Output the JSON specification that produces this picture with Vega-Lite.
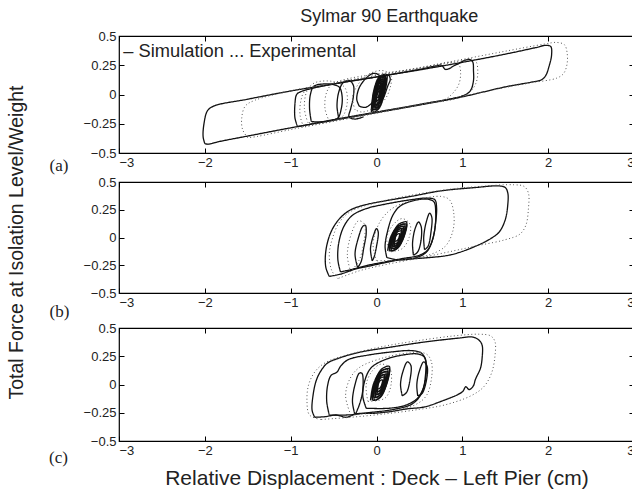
{
  "$schema": "https://vega.github.io/schema/vega-lite/v6.json",
  "padding": {"left": 5, "top": 8, "right": 0, "bottom": 0},
  "title": {"text": "Sylmar 90 Earthquake", "anchor": "middle", "dx": 69, "offset": 3},
  "spacing": 29,
  "bounds": "flush",
  "datasets": {
    "note": [{"x": -2.95, "y": 0.36, "label": "– Simulation ... Experimental"}],
    "a": [
      {"g":"a1","t":"sim","x":-2.0,"y":-0.42},{"g":"a1","t":"sim","x":-2.02,"y":-0.36},{"g":"a1","t":"sim","x":-2.01,"y":-0.25},{"g":"a1","t":"sim","x":-1.97,"y":-0.14},{"g":"a1","t":"sim","x":-1.9,"y":-0.1},{"g":"a1","t":"sim","x":-1.5,"y":-0.04},{"g":"a1","t":"sim","x":-1.0,"y":0.03},{"g":"a1","t":"sim","x":-0.5,"y":0.09},{"g":"a1","t":"sim","x":0,"y":0.15},{"g":"a1","t":"sim","x":0.5,"y":0.21},{"g":"a1","t":"sim","x":1.0,"y":0.275},{"g":"a1","t":"sim","x":1.5,"y":0.345},{"g":"a1","t":"sim","x":1.85,"y":0.4},{"g":"a1","t":"sim","x":1.97,"y":0.42},{"g":"a1","t":"sim","x":2.03,"y":0.41},{"g":"a1","t":"sim","x":2.04,"y":0.34},{"g":"a1","t":"sim","x":2.01,"y":0.24},{"g":"a1","t":"sim","x":1.97,"y":0.16},{"g":"a1","t":"sim","x":1.92,"y":0.125},{"g":"a1","t":"sim","x":1.8,"y":0.105},{"g":"a1","t":"sim","x":1.5,"y":0.065},{"g":"a1","t":"sim","x":1.0,"y":-0.02},{"g":"a1","t":"sim","x":0.5,"y":-0.09},{"g":"a1","t":"sim","x":0,"y":-0.155},{"g":"a1","t":"sim","x":-0.5,"y":-0.22},{"g":"a1","t":"sim","x":-1.0,"y":-0.285},{"g":"a1","t":"sim","x":-1.5,"y":-0.355},{"g":"a1","t":"sim","x":-1.85,"y":-0.405},{"g":"a1","t":"sim","x":-1.96,"y":-0.425},{"g":"a1","t":"sim","x":-2.0,"y":-0.42},
      {"g":"a2","t":"sim","x":-0.92,"y":-0.275},{"g":"a2","t":"sim","x":-0.95,"y":-0.2},{"g":"a2","t":"sim","x":-0.95,"y":-0.08},{"g":"a2","t":"sim","x":-0.93,"y":0.0},{"g":"a2","t":"sim","x":-0.88,"y":0.025},{"g":"a2","t":"sim","x":-0.5,"y":0.09},{"g":"a2","t":"sim","x":0,"y":0.15},{"g":"a2","t":"sim","x":0.5,"y":0.215},{"g":"a2","t":"sim","x":0.7,"y":0.245},{"g":"a2","t":"sim","x":0.76,"y":0.25},{"g":"a2","t":"sim","x":0.8,"y":0.215},{"g":"a2","t":"sim","x":0.85,"y":0.222},{"g":"a2","t":"sim","x":0.9,"y":0.245},{"g":"a2","t":"sim","x":0.96,"y":0.265},{"g":"a2","t":"sim","x":1.02,"y":0.29},{"g":"a2","t":"sim","x":1.08,"y":0.3},{"g":"a2","t":"sim","x":1.12,"y":0.28},{"g":"a2","t":"sim","x":1.13,"y":0.2},{"g":"a2","t":"sim","x":1.13,"y":0.12},{"g":"a2","t":"sim","x":1.1,"y":0.04},{"g":"a2","t":"sim","x":1.04,"y":0.0},{"g":"a2","t":"sim","x":0.5,"y":-0.085},{"g":"a2","t":"sim","x":0,"y":-0.15},{"g":"a2","t":"sim","x":-0.5,"y":-0.215},{"g":"a2","t":"sim","x":-0.85,"y":-0.265},{"g":"a2","t":"sim","x":-0.92,"y":-0.275},
      {"g":"a3","t":"sim","x":-0.76,"y":-0.23},{"g":"a3","t":"sim","x":-0.78,"y":-0.12},{"g":"a3","t":"sim","x":-0.77,"y":0.0},{"g":"a3","t":"sim","x":-0.73,"y":0.07},{"g":"a3","t":"sim","x":-0.62,"y":0.09},{"g":"a3","t":"sim","x":-0.5,"y":0.085},{"g":"a3","t":"sim","x":-0.43,"y":0.06},{"g":"a3","t":"sim","x":-0.4,"y":-0.02},{"g":"a3","t":"sim","x":-0.41,"y":-0.12},{"g":"a3","t":"sim","x":-0.45,"y":-0.2},{"g":"a3","t":"sim","x":-0.55,"y":-0.225},{"g":"a3","t":"sim","x":-0.68,"y":-0.235},{"g":"a3","t":"sim","x":-0.76,"y":-0.23},
      {"g":"a4","t":"sim","x":-0.44,"y":-0.2},{"g":"a4","t":"sim","x":-0.46,"y":-0.1},{"g":"a4","t":"sim","x":-0.44,"y":0.02},{"g":"a4","t":"sim","x":-0.39,"y":0.1},{"g":"a4","t":"sim","x":-0.32,"y":0.12},{"g":"a4","t":"sim","x":-0.27,"y":0.08},{"g":"a4","t":"sim","x":-0.27,"y":-0.02},{"g":"a4","t":"sim","x":-0.3,"y":-0.12},{"g":"a4","t":"sim","x":-0.32,"y":-0.19},{"g":"a4","t":"sim","x":-0.25,"y":-0.21},{"g":"a4","t":"sim","x":-0.15,"y":-0.19},
      {"g":"a5","t":"sim","x":-0.2,"y":-0.1},{"g":"a5","t":"sim","x":-0.23,"y":-0.04},{"g":"a5","t":"sim","x":-0.2,"y":0.06},{"g":"a5","t":"sim","x":-0.12,"y":0.14},{"g":"a5","t":"sim","x":-0.04,"y":0.18},{"g":"a5","t":"sim","x":0.02,"y":0.17},{"g":"a5","t":"sim","x":0.05,"y":0.12},{"g":"a5","t":"sim","x":0.02,"y":0.02},{"g":"a5","t":"sim","x":-0.05,"y":-0.07},{"g":"a5","t":"sim","x":-0.13,"y":-0.11},{"g":"a5","t":"sim","x":-0.2,"y":-0.1},
      {"g":"a6","t":"sim","x":-0.06,"y":-0.13},{"g":"a6","t":"sim","x":-0.036,"y":0.02},{"g":"a6","t":"sim","x":0.02,"y":0.14},{"g":"a6","t":"sim","x":0.076,"y":0.17},{"g":"a6","t":"sim","x":0.1,"y":0.17},{"g":"a6","t":"sim","x":0.076,"y":0.02},{"g":"a6","t":"sim","x":0.02,"y":-0.1},{"g":"a6","t":"sim","x":-0.036,"y":-0.13},
      {"g":"a6","t":"sim","x":-0.045,"y":-0.11},{"g":"a6","t":"sim","x":-0.026,"y":0.02},{"g":"a6","t":"sim","x":0.02,"y":0.124},{"g":"a6","t":"sim","x":0.066,"y":0.15},{"g":"a6","t":"sim","x":0.085,"y":0.15},{"g":"a6","t":"sim","x":0.066,"y":0.02},{"g":"a6","t":"sim","x":0.02,"y":-0.084},{"g":"a6","t":"sim","x":-0.026,"y":-0.11},
      {"g":"a6","t":"sim","x":-0.03,"y":-0.09},{"g":"a6","t":"sim","x":-0.015,"y":0.02},{"g":"a6","t":"sim","x":0.02,"y":0.108},{"g":"a6","t":"sim","x":0.055,"y":0.13},{"g":"a6","t":"sim","x":0.07,"y":0.13},{"g":"a6","t":"sim","x":0.055,"y":0.02},{"g":"a6","t":"sim","x":0.02,"y":-0.068},{"g":"a6","t":"sim","x":-0.015,"y":-0.09},
      {"g":"a6","t":"sim","x":-0.015,"y":-0.06},{"g":"a6","t":"sim","x":-0.005,"y":0.02},{"g":"a6","t":"sim","x":0.02,"y":0.084},{"g":"a6","t":"sim","x":0.045,"y":0.1},{"g":"a6","t":"sim","x":0.055,"y":0.1},{"g":"a6","t":"sim","x":0.045,"y":0.02},{"g":"a6","t":"sim","x":0.02,"y":-0.044},{"g":"a6","t":"sim","x":-0.005,"y":-0.06},
      {"g":"a6","t":"sim","x":0.0,"y":-0.03},{"g":"a6","t":"sim","x":0.006,"y":0.02},{"g":"a6","t":"sim","x":0.02,"y":0.06},{"g":"a6","t":"sim","x":0.034,"y":0.07},{"g":"a6","t":"sim","x":0.04,"y":0.07},{"g":"a6","t":"sim","x":0.034,"y":0.02},{"g":"a6","t":"sim","x":0.02,"y":-0.02},{"g":"a6","t":"sim","x":0.006,"y":-0.03},
      {"g":"a8","t":"sim","x":-0.06,"y":-0.15},{"g":"a8","t":"sim","x":-0.033,"y":0.01},{"g":"a8","t":"sim","x":0.03,"y":0.138},{"g":"a8","t":"sim","x":0.093,"y":0.17},{"g":"a8","t":"sim","x":0.12,"y":0.17},{"g":"a8","t":"sim","x":0.093,"y":0.01},{"g":"a8","t":"sim","x":0.03,"y":-0.118},{"g":"a8","t":"sim","x":-0.033,"y":-0.15},
      {"g":"a8","t":"sim","x":-0.045,"y":-0.13},{"g":"a8","t":"sim","x":-0.023,"y":0.01},{"g":"a8","t":"sim","x":0.03,"y":0.122},{"g":"a8","t":"sim","x":0.083,"y":0.15},{"g":"a8","t":"sim","x":0.105,"y":0.15},{"g":"a8","t":"sim","x":0.083,"y":0.01},{"g":"a8","t":"sim","x":0.03,"y":-0.102},{"g":"a8","t":"sim","x":-0.023,"y":-0.13},
      {"g":"a8","t":"sim","x":-0.03,"y":-0.11},{"g":"a8","t":"sim","x":-0.012,"y":0.01},{"g":"a8","t":"sim","x":0.03,"y":0.106},{"g":"a8","t":"sim","x":0.072,"y":0.13},{"g":"a8","t":"sim","x":0.09,"y":0.13},{"g":"a8","t":"sim","x":0.072,"y":0.01},{"g":"a8","t":"sim","x":0.03,"y":-0.086},{"g":"a8","t":"sim","x":-0.012,"y":-0.11},
      {"g":"a8","t":"sim","x":-0.015,"y":-0.09},{"g":"a8","t":"sim","x":-0.002,"y":0.01},{"g":"a8","t":"sim","x":0.03,"y":0.09},{"g":"a8","t":"sim","x":0.062,"y":0.11},{"g":"a8","t":"sim","x":0.075,"y":0.11},{"g":"a8","t":"sim","x":0.062,"y":0.01},{"g":"a8","t":"sim","x":0.03,"y":-0.07},{"g":"a8","t":"sim","x":-0.002,"y":-0.09},
      {"g":"a7","t":"sim","x":0.02,"y":-0.1},{"g":"a7","t":"sim","x":0.08,"y":-0.03},{"g":"a7","t":"sim","x":0.13,"y":0.07},{"g":"a7","t":"sim","x":0.16,"y":0.13},{"g":"a7","t":"sim","x":0.14,"y":0.165},{"g":"a7","t":"sim","x":0.09,"y":0.15},{"g":"a7","t":"sim","x":0.04,"y":0.08},{"g":"a7","t":"sim","x":0.0,"y":-0.03},{"g":"a7","t":"sim","x":0.02,"y":-0.1},
      {"g":"ae1","t":"exp","x":-1.5,"y":-0.37},{"g":"ae1","t":"exp","x":-1.56,"y":-0.3},{"g":"ae1","t":"exp","x":-1.57,"y":-0.2},{"g":"ae1","t":"exp","x":-1.53,"y":-0.1},{"g":"ae1","t":"exp","x":-1.42,"y":-0.05},{"g":"ae1","t":"exp","x":-1.0,"y":0.03},{"g":"ae1","t":"exp","x":-0.5,"y":0.1},{"g":"ae1","t":"exp","x":0,"y":0.165},{"g":"ae1","t":"exp","x":0.5,"y":0.23},{"g":"ae1","t":"exp","x":1.0,"y":0.3},{"g":"ae1","t":"exp","x":1.5,"y":0.37},{"g":"ae1","t":"exp","x":1.95,"y":0.43},{"g":"ae1","t":"exp","x":2.1,"y":0.445},{"g":"ae1","t":"exp","x":2.19,"y":0.425},{"g":"ae1","t":"exp","x":2.22,"y":0.36},{"g":"ae1","t":"exp","x":2.22,"y":0.26},{"g":"ae1","t":"exp","x":2.18,"y":0.18},{"g":"ae1","t":"exp","x":2.1,"y":0.14},{"g":"ae1","t":"exp","x":1.8,"y":0.1},{"g":"ae1","t":"exp","x":1.5,"y":0.06},{"g":"ae1","t":"exp","x":1.0,"y":-0.015},{"g":"ae1","t":"exp","x":0.5,"y":-0.09},{"g":"ae1","t":"exp","x":0,"y":-0.16},{"g":"ae1","t":"exp","x":-0.5,"y":-0.23},{"g":"ae1","t":"exp","x":-1.0,"y":-0.3},{"g":"ae1","t":"exp","x":-1.4,"y":-0.36},{"g":"ae1","t":"exp","x":-1.5,"y":-0.37},
      {"g":"ae2","t":"exp","x":-0.85,"y":-0.275},{"g":"ae2","t":"exp","x":-0.89,"y":-0.18},{"g":"ae2","t":"exp","x":-0.88,"y":-0.05},{"g":"ae2","t":"exp","x":-0.83,"y":0.03},{"g":"ae2","t":"exp","x":-0.5,"y":0.095},{"g":"ae2","t":"exp","x":0,"y":0.16},{"g":"ae2","t":"exp","x":0.5,"y":0.225},{"g":"ae2","t":"exp","x":1.0,"y":0.29},{"g":"ae2","t":"exp","x":1.1,"y":0.305},{"g":"ae2","t":"exp","x":1.16,"y":0.28},{"g":"ae2","t":"exp","x":1.18,"y":0.19},{"g":"ae2","t":"exp","x":1.16,"y":0.1},{"g":"ae2","t":"exp","x":1.1,"y":0.03},{"g":"ae2","t":"exp","x":1.0,"y":-0.02},{"g":"ae2","t":"exp","x":0.5,"y":-0.09},{"g":"ae2","t":"exp","x":0,"y":-0.155},{"g":"ae2","t":"exp","x":-0.5,"y":-0.225},{"g":"ae2","t":"exp","x":-0.85,"y":-0.275},
      {"g":"ae3","t":"exp","x":-0.55,"y":-0.23},{"g":"ae3","t":"exp","x":-0.6,"y":-0.12},{"g":"ae3","t":"exp","x":-0.58,"y":0.02},{"g":"ae3","t":"exp","x":-0.5,"y":0.095},{"g":"ae3","t":"exp","x":0.5,"y":0.225},{"g":"ae3","t":"exp","x":0.88,"y":0.275},{"g":"ae3","t":"exp","x":0.96,"y":0.255},{"g":"ae3","t":"exp","x":0.98,"y":0.18},{"g":"ae3","t":"exp","x":0.96,"y":0.09},{"g":"ae3","t":"exp","x":0.9,"y":0.02},{"g":"ae3","t":"exp","x":0.8,"y":-0.04},{"g":"ae3","t":"exp","x":0.5,"y":-0.085},{"g":"ae3","t":"exp","x":0,"y":-0.15},{"g":"ae3","t":"exp","x":-0.55,"y":-0.23},
      {"g":"ae4","t":"exp","x":-0.8,"y":-0.24},{"g":"ae4","t":"exp","x":-0.84,"y":-0.12},{"g":"ae4","t":"exp","x":-0.81,"y":0.03},{"g":"ae4","t":"exp","x":-0.72,"y":0.1},{"g":"ae4","t":"exp","x":-0.5,"y":0.11},{"g":"ae4","t":"exp","x":-0.37,"y":0.06},{"g":"ae4","t":"exp","x":-0.34,"y":-0.06},{"g":"ae4","t":"exp","x":-0.4,"y":-0.19},{"g":"ae4","t":"exp","x":-0.6,"y":-0.24},{"g":"ae4","t":"exp","x":-0.8,"y":-0.24},
      {"g":"ae5","t":"exp","x":-0.25,"y":-0.13},{"g":"ae5","t":"exp","x":-0.28,"y":-0.03},{"g":"ae5","t":"exp","x":-0.22,"y":0.08},{"g":"ae5","t":"exp","x":-0.12,"y":0.16},{"g":"ae5","t":"exp","x":0.0,"y":0.2},{"g":"ae5","t":"exp","x":0.1,"y":0.2},{"g":"ae5","t":"exp","x":0.17,"y":0.16},{"g":"ae5","t":"exp","x":0.16,"y":0.06},{"g":"ae5","t":"exp","x":0.09,"y":-0.05},{"g":"ae5","t":"exp","x":-0.04,"y":-0.12},{"g":"ae5","t":"exp","x":-0.17,"y":-0.15},{"g":"ae5","t":"exp","x":-0.25,"y":-0.13}
    ],
    "b": [
      {"g":"b1","t":"sim","x":-0.55,"y":-0.35},{"g":"b1","t":"sim","x":-0.59,"y":-0.27},{"g":"b1","t":"sim","x":-0.59,"y":-0.12},{"g":"b1","t":"sim","x":-0.53,"y":0.05},{"g":"b1","t":"sim","x":-0.43,"y":0.17},{"g":"b1","t":"sim","x":-0.3,"y":0.25},{"g":"b1","t":"sim","x":-0.1,"y":0.3},{"g":"b1","t":"sim","x":0.1,"y":0.33},{"g":"b1","t":"sim","x":0.4,"y":0.37},{"g":"b1","t":"sim","x":0.75,"y":0.42},{"g":"b1","t":"sim","x":1.15,"y":0.45},{"g":"b1","t":"sim","x":1.42,"y":0.465},{"g":"b1","t":"sim","x":1.5,"y":0.45},{"g":"b1","t":"sim","x":1.53,"y":0.4},{"g":"b1","t":"sim","x":1.53,"y":0.3},{"g":"b1","t":"sim","x":1.5,"y":0.16},{"g":"b1","t":"sim","x":1.43,"y":0.05},{"g":"b1","t":"sim","x":1.33,"y":-0.01},{"g":"b1","t":"sim","x":1.15,"y":-0.08},{"g":"b1","t":"sim","x":0.87,"y":-0.155},{"g":"b1","t":"sim","x":0.55,"y":-0.185},{"g":"b1","t":"sim","x":0.28,"y":-0.2},{"g":"b1","t":"sim","x":0.08,"y":-0.23},{"g":"b1","t":"sim","x":-0.1,"y":-0.26},{"g":"b1","t":"sim","x":-0.25,"y":-0.285},{"g":"b1","t":"sim","x":-0.42,"y":-0.33},{"g":"b1","t":"sim","x":-0.55,"y":-0.35},
      {"g":"b2","t":"sim","x":-0.42,"y":-0.31},{"g":"b2","t":"sim","x":-0.45,"y":-0.2},{"g":"b2","t":"sim","x":-0.44,"y":-0.05},{"g":"b2","t":"sim","x":-0.38,"y":0.1},{"g":"b2","t":"sim","x":-0.28,"y":0.2},{"g":"b2","t":"sim","x":-0.12,"y":0.26},{"g":"b2","t":"sim","x":0.1,"y":0.3},{"g":"b2","t":"sim","x":0.4,"y":0.34},{"g":"b2","t":"sim","x":0.6,"y":0.355},{"g":"b2","t":"sim","x":0.68,"y":0.34},{"g":"b2","t":"sim","x":0.7,"y":0.27},{"g":"b2","t":"sim","x":0.69,"y":0.14},{"g":"b2","t":"sim","x":0.66,"y":0.0},{"g":"b2","t":"sim","x":0.6,"y":-0.11},{"g":"b2","t":"sim","x":0.5,"y":-0.16},{"g":"b2","t":"sim","x":0.3,"y":-0.19},{"g":"b2","t":"sim","x":0.1,"y":-0.22},{"g":"b2","t":"sim","x":-0.1,"y":-0.25},{"g":"b2","t":"sim","x":-0.3,"y":-0.29},{"g":"b2","t":"sim","x":-0.42,"y":-0.31},
      {"g":"b3","t":"sim","x":0.12,"y":-0.18},{"g":"b3","t":"sim","x":0.1,"y":-0.08},{"g":"b3","t":"sim","x":0.13,"y":0.06},{"g":"b3","t":"sim","x":0.19,"y":0.2},{"g":"b3","t":"sim","x":0.27,"y":0.28},{"g":"b3","t":"sim","x":0.42,"y":0.33},{"g":"b3","t":"sim","x":0.6,"y":0.345},{"g":"b3","t":"sim","x":0.67,"y":0.32},{"g":"b3","t":"sim","x":0.69,"y":0.22},{"g":"b3","t":"sim","x":0.68,"y":0.08},{"g":"b3","t":"sim","x":0.64,"y":-0.05},{"g":"b3","t":"sim","x":0.57,"y":-0.14},{"g":"b3","t":"sim","x":0.42,"y":-0.19},{"g":"b3","t":"sim","x":0.24,"y":-0.2},{"g":"b3","t":"sim","x":0.12,"y":-0.18},
      {"g":"b4","t":"sim","x":-0.22,"y":-0.27},{"g":"b4","t":"sim","x":-0.25,"y":-0.15},{"g":"b4","t":"sim","x":-0.21,"y":0.0},{"g":"b4","t":"sim","x":-0.16,"y":0.1},{"g":"b4","t":"sim","x":-0.13,"y":0.11},{"g":"b4","t":"sim","x":-0.12,"y":0.04},{"g":"b4","t":"sim","x":-0.15,"y":-0.1},{"g":"b4","t":"sim","x":-0.18,"y":-0.22},{"g":"b4","t":"sim","x":-0.22,"y":-0.27},
      {"g":"b5","t":"sim","x":-0.05,"y":-0.21},{"g":"b5","t":"sim","x":-0.07,"y":-0.1},{"g":"b5","t":"sim","x":-0.03,"y":0.03},{"g":"b5","t":"sim","x":0.0,"y":0.08},{"g":"b5","t":"sim","x":0.02,"y":0.05},{"g":"b5","t":"sim","x":0.0,"y":-0.08},{"g":"b5","t":"sim","x":-0.03,"y":-0.18},{"g":"b5","t":"sim","x":-0.05,"y":-0.21},
      {"g":"b6","t":"sim","x":0.43,"y":-0.16},{"g":"b6","t":"sim","x":0.42,"y":-0.05},{"g":"b6","t":"sim","x":0.45,"y":0.08},{"g":"b6","t":"sim","x":0.49,"y":0.14},{"g":"b6","t":"sim","x":0.52,"y":0.1},{"g":"b6","t":"sim","x":0.52,"y":-0.02},{"g":"b6","t":"sim","x":0.48,"y":-0.13},{"g":"b6","t":"sim","x":0.43,"y":-0.16},
      {"g":"b8","t":"sim","x":0.56,"y":-0.11},{"g":"b8","t":"sim","x":0.55,"y":0.0},{"g":"b8","t":"sim","x":0.58,"y":0.14},{"g":"b8","t":"sim","x":0.62,"y":0.22},{"g":"b8","t":"sim","x":0.645,"y":0.18},{"g":"b8","t":"sim","x":0.635,"y":0.05},{"g":"b8","t":"sim","x":0.6,"y":-0.08},{"g":"b8","t":"sim","x":0.56,"y":-0.11},
      {"g":"b7","t":"sim","x":0.13,"y":-0.12},{"g":"b7","t":"sim","x":0.163,"y":0},{"g":"b7","t":"sim","x":0.24,"y":0.096},{"g":"b7","t":"sim","x":0.317,"y":0.12},{"g":"b7","t":"sim","x":0.35,"y":0.12},{"g":"b7","t":"sim","x":0.317,"y":0},{"g":"b7","t":"sim","x":0.24,"y":-0.096},{"g":"b7","t":"sim","x":0.163,"y":-0.12},
      {"g":"b7","t":"sim","x":0.15,"y":-0.1},{"g":"b7","t":"sim","x":0.177,"y":0},{"g":"b7","t":"sim","x":0.24,"y":0.08},{"g":"b7","t":"sim","x":0.303,"y":0.1},{"g":"b7","t":"sim","x":0.33,"y":0.1},{"g":"b7","t":"sim","x":0.303,"y":0},{"g":"b7","t":"sim","x":0.24,"y":-0.08},{"g":"b7","t":"sim","x":0.177,"y":-0.1},
      {"g":"b7","t":"sim","x":0.17,"y":-0.08},{"g":"b7","t":"sim","x":0.191,"y":0},{"g":"b7","t":"sim","x":0.24,"y":0.064},{"g":"b7","t":"sim","x":0.289,"y":0.08},{"g":"b7","t":"sim","x":0.31,"y":0.08},{"g":"b7","t":"sim","x":0.289,"y":0},{"g":"b7","t":"sim","x":0.24,"y":-0.064},{"g":"b7","t":"sim","x":0.191,"y":-0.08},
      {"g":"b7","t":"sim","x":0.19,"y":-0.06},{"g":"b7","t":"sim","x":0.205,"y":0},{"g":"b7","t":"sim","x":0.24,"y":0.048},{"g":"b7","t":"sim","x":0.275,"y":0.06},{"g":"b7","t":"sim","x":0.29,"y":0.06},{"g":"b7","t":"sim","x":0.275,"y":0},{"g":"b7","t":"sim","x":0.24,"y":-0.048},{"g":"b7","t":"sim","x":0.205,"y":-0.06},
      {"g":"b7","t":"sim","x":0.21,"y":-0.035},{"g":"b7","t":"sim","x":0.219,"y":0},{"g":"b7","t":"sim","x":0.24,"y":0.028},{"g":"b7","t":"sim","x":0.261,"y":0.035},{"g":"b7","t":"sim","x":0.27,"y":0.035},{"g":"b7","t":"sim","x":0.261,"y":0},{"g":"b7","t":"sim","x":0.24,"y":-0.028},{"g":"b7","t":"sim","x":0.219,"y":-0.035},
      {"g":"b9","t":"sim","x":0.15,"y":-0.12},{"g":"b9","t":"sim","x":0.18,"y":0.01},{"g":"b9","t":"sim","x":0.25,"y":0.114},{"g":"b9","t":"sim","x":0.32,"y":0.14},{"g":"b9","t":"sim","x":0.35,"y":0.14},{"g":"b9","t":"sim","x":0.32,"y":0.01},{"g":"b9","t":"sim","x":0.25,"y":-0.094},{"g":"b9","t":"sim","x":0.18,"y":-0.12},
      {"g":"b9","t":"sim","x":0.17,"y":-0.1},{"g":"b9","t":"sim","x":0.194,"y":0.01},{"g":"b9","t":"sim","x":0.25,"y":0.098},{"g":"b9","t":"sim","x":0.306,"y":0.12},{"g":"b9","t":"sim","x":0.33,"y":0.12},{"g":"b9","t":"sim","x":0.306,"y":0.01},{"g":"b9","t":"sim","x":0.25,"y":-0.078},{"g":"b9","t":"sim","x":0.194,"y":-0.1},
      {"g":"b9","t":"sim","x":0.19,"y":-0.08},{"g":"b9","t":"sim","x":0.208,"y":0.01},{"g":"b9","t":"sim","x":0.25,"y":0.082},{"g":"b9","t":"sim","x":0.292,"y":0.1},{"g":"b9","t":"sim","x":0.31,"y":0.1},{"g":"b9","t":"sim","x":0.292,"y":0.01},{"g":"b9","t":"sim","x":0.25,"y":-0.062},{"g":"b9","t":"sim","x":0.208,"y":-0.08},
      {"g":"b9","t":"sim","x":0.21,"y":-0.06},{"g":"b9","t":"sim","x":0.222,"y":0.01},{"g":"b9","t":"sim","x":0.25,"y":0.066},{"g":"b9","t":"sim","x":0.278,"y":0.08},{"g":"b9","t":"sim","x":0.29,"y":0.08},{"g":"b9","t":"sim","x":0.278,"y":0.01},{"g":"b9","t":"sim","x":0.25,"y":-0.046},{"g":"b9","t":"sim","x":0.222,"y":-0.06},
      {"g":"be1","t":"exp","x":-0.45,"y":-0.37},{"g":"be1","t":"exp","x":-0.52,"y":-0.3},{"g":"be1","t":"exp","x":-0.55,"y":-0.15},{"g":"be1","t":"exp","x":-0.51,"y":0.0},{"g":"be1","t":"exp","x":-0.43,"y":0.14},{"g":"be1","t":"exp","x":-0.3,"y":0.235},{"g":"be1","t":"exp","x":0.0,"y":0.315},{"g":"be1","t":"exp","x":0.4,"y":0.38},{"g":"be1","t":"exp","x":0.8,"y":0.43},{"g":"be1","t":"exp","x":1.2,"y":0.46},{"g":"be1","t":"exp","x":1.6,"y":0.475},{"g":"be1","t":"exp","x":1.72,"y":0.46},{"g":"be1","t":"exp","x":1.77,"y":0.4},{"g":"be1","t":"exp","x":1.77,"y":0.26},{"g":"be1","t":"exp","x":1.74,"y":0.11},{"g":"be1","t":"exp","x":1.67,"y":0.03},{"g":"be1","t":"exp","x":1.5,"y":-0.02},{"g":"be1","t":"exp","x":1.2,"y":-0.07},{"g":"be1","t":"exp","x":0.9,"y":-0.12},{"g":"be1","t":"exp","x":0.5,"y":-0.185},{"g":"be1","t":"exp","x":0.1,"y":-0.245},{"g":"be1","t":"exp","x":-0.2,"y":-0.3},{"g":"be1","t":"exp","x":-0.45,"y":-0.37},
      {"g":"be2","t":"exp","x":0.0,"y":-0.21},{"g":"be2","t":"exp","x":-0.04,"y":-0.06},{"g":"be2","t":"exp","x":0.04,"y":0.14},{"g":"be2","t":"exp","x":0.2,"y":0.27},{"g":"be2","t":"exp","x":0.5,"y":0.345},{"g":"be2","t":"exp","x":0.75,"y":0.37},{"g":"be2","t":"exp","x":0.85,"y":0.34},{"g":"be2","t":"exp","x":0.9,"y":0.22},{"g":"be2","t":"exp","x":0.89,"y":0.06},{"g":"be2","t":"exp","x":0.8,"y":-0.08},{"g":"be2","t":"exp","x":0.6,"y":-0.16},{"g":"be2","t":"exp","x":0.3,"y":-0.2},{"g":"be2","t":"exp","x":0.0,"y":-0.21},
      {"g":"be3","t":"exp","x":-0.3,"y":-0.31},{"g":"be3","t":"exp","x":-0.34,"y":-0.16},{"g":"be3","t":"exp","x":-0.29,"y":0.04},{"g":"be3","t":"exp","x":-0.21,"y":0.15},{"g":"be3","t":"exp","x":-0.14,"y":0.12},{"g":"be3","t":"exp","x":-0.15,"y":-0.05},{"g":"be3","t":"exp","x":-0.2,"y":-0.2},{"g":"be3","t":"exp","x":-0.3,"y":-0.31},
      {"g":"be4","t":"exp","x":0.15,"y":-0.13},{"g":"be4","t":"exp","x":0.12,"y":0.0},{"g":"be4","t":"exp","x":0.2,"y":0.12},{"g":"be4","t":"exp","x":0.3,"y":0.17},{"g":"be4","t":"exp","x":0.39,"y":0.12},{"g":"be4","t":"exp","x":0.38,"y":0.0},{"g":"be4","t":"exp","x":0.3,"y":-0.1},{"g":"be4","t":"exp","x":0.15,"y":-0.13}
    ],
    "c": [
      {"g":"c1","t":"sim","x":-0.72,"y":-0.29},{"g":"c1","t":"sim","x":-0.75,"y":-0.23},{"g":"c1","t":"sim","x":-0.74,"y":-0.1},{"g":"c1","t":"sim","x":-0.7,"y":0.04},{"g":"c1","t":"sim","x":-0.64,"y":0.13},{"g":"c1","t":"sim","x":-0.57,"y":0.19},{"g":"c1","t":"sim","x":-0.43,"y":0.235},{"g":"c1","t":"sim","x":-0.2,"y":0.285},{"g":"c1","t":"sim","x":0.16,"y":0.33},{"g":"c1","t":"sim","x":0.55,"y":0.375},{"g":"c1","t":"sim","x":0.95,"y":0.41},{"g":"c1","t":"sim","x":1.12,"y":0.42},{"g":"c1","t":"sim","x":1.19,"y":0.395},{"g":"c1","t":"sim","x":1.23,"y":0.35},{"g":"c1","t":"sim","x":1.23,"y":0.23},{"g":"c1","t":"sim","x":1.21,"y":0.14},{"g":"c1","t":"sim","x":1.17,"y":0.075},{"g":"c1","t":"sim","x":1.15,"y":0.04},{"g":"c1","t":"sim","x":1.13,"y":-0.01},{"g":"c1","t":"sim","x":1.08,"y":-0.045},{"g":"c1","t":"sim","x":1.04,"y":-0.02},{"g":"c1","t":"sim","x":1.0,"y":-0.065},{"g":"c1","t":"sim","x":0.75,"y":-0.15},{"g":"c1","t":"sim","x":0.55,"y":-0.2},{"g":"c1","t":"sim","x":0.36,"y":-0.215},{"g":"c1","t":"sim","x":0.16,"y":-0.24},{"g":"c1","t":"sim","x":-0.04,"y":-0.255},{"g":"c1","t":"sim","x":-0.24,"y":-0.26},{"g":"c1","t":"sim","x":-0.35,"y":-0.29},{"g":"c1","t":"sim","x":-0.47,"y":-0.27},{"g":"c1","t":"sim","x":-0.6,"y":-0.285},{"g":"c1","t":"sim","x":-0.72,"y":-0.29},
      {"g":"c2","t":"sim","x":-0.55,"y":-0.27},{"g":"c2","t":"sim","x":-0.58,"y":-0.15},{"g":"c2","t":"sim","x":-0.57,"y":-0.01},{"g":"c2","t":"sim","x":-0.53,"y":0.08},{"g":"c2","t":"sim","x":-0.46,"y":0.11},{"g":"c2","t":"sim","x":-0.42,"y":0.16},{"g":"c2","t":"sim","x":-0.33,"y":0.22},{"g":"c2","t":"sim","x":-0.1,"y":0.26},{"g":"c2","t":"sim","x":0.2,"y":0.29},{"g":"c2","t":"sim","x":0.4,"y":0.3},{"g":"c2","t":"sim","x":0.52,"y":0.28},{"g":"c2","t":"sim","x":0.57,"y":0.22},{"g":"c2","t":"sim","x":0.57,"y":0.08},{"g":"c2","t":"sim","x":0.53,"y":-0.07},{"g":"c2","t":"sim","x":0.42,"y":-0.17},{"g":"c2","t":"sim","x":0.2,"y":-0.22},{"g":"c2","t":"sim","x":-0.1,"y":-0.25},{"g":"c2","t":"sim","x":-0.35,"y":-0.27},{"g":"c2","t":"sim","x":-0.55,"y":-0.27},
      {"g":"c3","t":"sim","x":-0.12,"y":-0.21},{"g":"c3","t":"sim","x":-0.16,"y":-0.1},{"g":"c3","t":"sim","x":-0.13,"y":0.05},{"g":"c3","t":"sim","x":-0.06,"y":0.15},{"g":"c3","t":"sim","x":0.1,"y":0.22},{"g":"c3","t":"sim","x":0.3,"y":0.26},{"g":"c3","t":"sim","x":0.48,"y":0.27},{"g":"c3","t":"sim","x":0.56,"y":0.24},{"g":"c3","t":"sim","x":0.58,"y":0.12},{"g":"c3","t":"sim","x":0.55,"y":-0.02},{"g":"c3","t":"sim","x":0.48,"y":-0.12},{"g":"c3","t":"sim","x":0.35,"y":-0.18},{"g":"c3","t":"sim","x":0.15,"y":-0.21},{"g":"c3","t":"sim","x":-0.12,"y":-0.21},
      {"g":"c4","t":"sim","x":0.3,"y":-0.1},{"g":"c4","t":"sim","x":0.28,"y":0.0},{"g":"c4","t":"sim","x":0.31,"y":0.12},{"g":"c4","t":"sim","x":0.36,"y":0.2},{"g":"c4","t":"sim","x":0.4,"y":0.17},{"g":"c4","t":"sim","x":0.39,"y":0.04},{"g":"c4","t":"sim","x":0.35,"y":-0.07},{"g":"c4","t":"sim","x":0.3,"y":-0.1},
      {"g":"c5","t":"sim","x":-0.25,"y":-0.27},{"g":"c5","t":"sim","x":-0.28,"y":-0.15},{"g":"c5","t":"sim","x":-0.25,"y":0.0},{"g":"c5","t":"sim","x":-0.2,"y":0.1},{"g":"c5","t":"sim","x":-0.17,"y":0.1},{"g":"c5","t":"sim","x":-0.16,"y":-0.05},{"g":"c5","t":"sim","x":-0.2,"y":-0.18},{"g":"c5","t":"sim","x":-0.25,"y":-0.27},
      {"g":"c6","t":"sim","x":0.48,"y":-0.1},{"g":"c6","t":"sim","x":0.47,"y":0.0},{"g":"c6","t":"sim","x":0.5,"y":0.12},{"g":"c6","t":"sim","x":0.55,"y":0.2},{"g":"c6","t":"sim","x":0.59,"y":0.16},{"g":"c6","t":"sim","x":0.58,"y":0.03},{"g":"c6","t":"sim","x":0.53,"y":-0.08},{"g":"c6","t":"sim","x":0.48,"y":-0.1},
      {"g":"c7","t":"sim","x":-0.07,"y":-0.14},{"g":"c7","t":"sim","x":-0.037,"y":0},{"g":"c7","t":"sim","x":0.04,"y":0.112},{"g":"c7","t":"sim","x":0.117,"y":0.14},{"g":"c7","t":"sim","x":0.15,"y":0.14},{"g":"c7","t":"sim","x":0.117,"y":0},{"g":"c7","t":"sim","x":0.04,"y":-0.112},{"g":"c7","t":"sim","x":-0.037,"y":-0.14},
      {"g":"c7","t":"sim","x":-0.05,"y":-0.115},{"g":"c7","t":"sim","x":-0.023,"y":0},{"g":"c7","t":"sim","x":0.04,"y":0.092},{"g":"c7","t":"sim","x":0.103,"y":0.115},{"g":"c7","t":"sim","x":0.13,"y":0.115},{"g":"c7","t":"sim","x":0.103,"y":0},{"g":"c7","t":"sim","x":0.04,"y":-0.092},{"g":"c7","t":"sim","x":-0.023,"y":-0.115},
      {"g":"c7","t":"sim","x":-0.03,"y":-0.09},{"g":"c7","t":"sim","x":-0.009,"y":0},{"g":"c7","t":"sim","x":0.04,"y":0.072},{"g":"c7","t":"sim","x":0.089,"y":0.09},{"g":"c7","t":"sim","x":0.11,"y":0.09},{"g":"c7","t":"sim","x":0.089,"y":0},{"g":"c7","t":"sim","x":0.04,"y":-0.072},{"g":"c7","t":"sim","x":-0.009,"y":-0.09},
      {"g":"c7","t":"sim","x":-0.01,"y":-0.065},{"g":"c7","t":"sim","x":0.005,"y":0},{"g":"c7","t":"sim","x":0.04,"y":0.052},{"g":"c7","t":"sim","x":0.075,"y":0.065},{"g":"c7","t":"sim","x":0.09,"y":0.065},{"g":"c7","t":"sim","x":0.075,"y":0},{"g":"c7","t":"sim","x":0.04,"y":-0.052},{"g":"c7","t":"sim","x":0.005,"y":-0.065},
      {"g":"c7","t":"sim","x":0.01,"y":-0.04},{"g":"c7","t":"sim","x":0.019,"y":0},{"g":"c7","t":"sim","x":0.04,"y":0.032},{"g":"c7","t":"sim","x":0.061,"y":0.04},{"g":"c7","t":"sim","x":0.07,"y":0.04},{"g":"c7","t":"sim","x":0.061,"y":0},{"g":"c7","t":"sim","x":0.04,"y":-0.032},{"g":"c7","t":"sim","x":0.019,"y":-0.04},
      {"g":"c8","t":"sim","x":-0.05,"y":-0.14},{"g":"c8","t":"sim","x":-0.02,"y":0.01},{"g":"c8","t":"sim","x":0.05,"y":0.13},{"g":"c8","t":"sim","x":0.12,"y":0.16},{"g":"c8","t":"sim","x":0.15,"y":0.16},{"g":"c8","t":"sim","x":0.12,"y":0.01},{"g":"c8","t":"sim","x":0.05,"y":-0.11},{"g":"c8","t":"sim","x":-0.02,"y":-0.14},
      {"g":"c8","t":"sim","x":-0.03,"y":-0.115},{"g":"c8","t":"sim","x":-0.006,"y":0.01},{"g":"c8","t":"sim","x":0.05,"y":0.11},{"g":"c8","t":"sim","x":0.106,"y":0.135},{"g":"c8","t":"sim","x":0.13,"y":0.135},{"g":"c8","t":"sim","x":0.106,"y":0.01},{"g":"c8","t":"sim","x":0.05,"y":-0.09},{"g":"c8","t":"sim","x":-0.006,"y":-0.115},
      {"g":"c8","t":"sim","x":-0.01,"y":-0.09},{"g":"c8","t":"sim","x":0.008,"y":0.01},{"g":"c8","t":"sim","x":0.05,"y":0.09},{"g":"c8","t":"sim","x":0.092,"y":0.11},{"g":"c8","t":"sim","x":0.11,"y":0.11},{"g":"c8","t":"sim","x":0.092,"y":0.01},{"g":"c8","t":"sim","x":0.05,"y":-0.07},{"g":"c8","t":"sim","x":0.008,"y":-0.09},
      {"g":"c8","t":"sim","x":0.01,"y":-0.065},{"g":"c8","t":"sim","x":0.022,"y":0.01},{"g":"c8","t":"sim","x":0.05,"y":0.07},{"g":"c8","t":"sim","x":0.078,"y":0.085},{"g":"c8","t":"sim","x":0.09,"y":0.085},{"g":"c8","t":"sim","x":0.078,"y":0.01},{"g":"c8","t":"sim","x":0.05,"y":-0.05},{"g":"c8","t":"sim","x":0.022,"y":-0.065},
      {"g":"ce1","t":"exp","x":-0.65,"y":-0.31},{"g":"ce1","t":"exp","x":-0.78,"y":-0.27},{"g":"ce1","t":"exp","x":-0.81,"y":-0.15},{"g":"ce1","t":"exp","x":-0.79,"y":0.0},{"g":"ce1","t":"exp","x":-0.71,"y":0.12},{"g":"ce1","t":"exp","x":-0.58,"y":0.2},{"g":"ce1","t":"exp","x":-0.3,"y":0.27},{"g":"ce1","t":"exp","x":0.1,"y":0.34},{"g":"ce1","t":"exp","x":0.5,"y":0.39},{"g":"ce1","t":"exp","x":0.9,"y":0.43},{"g":"ce1","t":"exp","x":1.2,"y":0.445},{"g":"ce1","t":"exp","x":1.33,"y":0.43},{"g":"ce1","t":"exp","x":1.38,"y":0.38},{"g":"ce1","t":"exp","x":1.38,"y":0.25},{"g":"ce1","t":"exp","x":1.34,"y":0.1},{"g":"ce1","t":"exp","x":1.25,"y":-0.02},{"g":"ce1","t":"exp","x":1.1,"y":-0.1},{"g":"ce1","t":"exp","x":0.8,"y":-0.18},{"g":"ce1","t":"exp","x":0.5,"y":-0.22},{"g":"ce1","t":"exp","x":0.1,"y":-0.26},{"g":"ce1","t":"exp","x":-0.3,"y":-0.29},{"g":"ce1","t":"exp","x":-0.65,"y":-0.31},
      {"g":"ce2","t":"exp","x":-0.3,"y":-0.27},{"g":"ce2","t":"exp","x":-0.36,"y":-0.1},{"g":"ce2","t":"exp","x":-0.31,"y":0.05},{"g":"ce2","t":"exp","x":-0.2,"y":0.15},{"g":"ce2","t":"exp","x":0.1,"y":0.24},{"g":"ce2","t":"exp","x":0.4,"y":0.28},{"g":"ce2","t":"exp","x":0.58,"y":0.27},{"g":"ce2","t":"exp","x":0.64,"y":0.2},{"g":"ce2","t":"exp","x":0.64,"y":0.05},{"g":"ce2","t":"exp","x":0.58,"y":-0.1},{"g":"ce2","t":"exp","x":0.45,"y":-0.18},{"g":"ce2","t":"exp","x":0.2,"y":-0.23},{"g":"ce2","t":"exp","x":-0.3,"y":-0.27},
      {"g":"ce3","t":"exp","x":-0.1,"y":-0.15},{"g":"ce3","t":"exp","x":-0.12,"y":0.0},{"g":"ce3","t":"exp","x":-0.05,"y":0.12},{"g":"ce3","t":"exp","x":0.05,"y":0.18},{"g":"ce3","t":"exp","x":0.15,"y":0.15},{"g":"ce3","t":"exp","x":0.17,"y":0.0},{"g":"ce3","t":"exp","x":0.1,"y":-0.12},{"g":"ce3","t":"exp","x":-0.1,"y":-0.15}
    ]
  },
  "vconcat": [
    {
      "width": 515, "height": 117,
      "layer": [
        {
          "data": {"name": "a"},
          "mark": {"type": "line", "interpolate": "catmull-rom"},
          "encoding": {
            "x": {"field": "x", "type": "quantitative", "scale": {"domain": [-3, 3], "nice": false, "zero": false}, "axis": {"orient": "bottom", "values": [-3, -2, -1, 0, 1, 2, 3], "format": "d", "title": "(a)", "titleFont": "Liberation Serif", "titleFontSize": 17, "titleAlign": "left", "titleAnchor": "start", "titleBaseline": "top", "titleX": -70, "titleY": 4}},
            "y": {"field": "y", "type": "quantitative", "scale": {"domain": [-0.5, 0.5], "nice": false, "zero": false}, "axis": {"orient": "left", "values": [-0.5, -0.25, 0, 0.25, 0.5], "format": ".2~f", "title": null}},
            "detail": {"field": "g"},
            "color": {"field": "t", "type": "nominal", "scale": {"domain": ["sim", "exp"], "range": ["#111111", "#555555"]}, "legend": null},
            "strokeDash": {"field": "t", "type": "nominal", "scale": {"domain": ["sim", "exp"], "range": [[1, 0], [1, 2.5]]}, "legend": null},
            "strokeWidth": {"field": "t", "type": "nominal", "scale": {"domain": ["sim", "exp"], "range": [1.3, 1]}, "legend": null},
            "order": {"value": null}
          }
        },
        {
          "data": {"name": "a"},
          "mark": {"type": "line", "strokeOpacity": 0},
          "encoding": {
            "x": {"field": "x", "type": "quantitative", "axis": {"orient": "top", "values": [-3, -2, -1, 0, 1, 2, 3], "labels": false, "title": null}},
            "y": {"field": "y", "type": "quantitative", "axis": {"orient": "right", "values": [-0.5, -0.25, 0, 0.25, 0.5], "labels": false, "title": null}},
            "detail": {"field": "g"}
          }
        },
        {
          "data": {"name": "note"},
          "mark": {"type": "text", "align": "left", "baseline": "middle", "font": "Liberation Sans", "fontSize": 18.3, "color": "#222"},
          "encoding": {
            "x": {"field": "x", "type": "quantitative", "axis": null},
            "y": {"field": "y", "type": "quantitative", "axis": null},
            "text": {"field": "label"}
          }
        }
      ],
      "resolve": {"axis": {"x": "independent", "y": "independent"}}
    },
    {
      "spacing": 35,
      "bounds": "flush",
      "vconcat": [
        {
          "width": 515, "height": 111,
          "layer": [
            {
              "data": {"name": "b"},
              "mark": {"type": "line", "interpolate": "catmull-rom"},
              "encoding": {
                "x": {"field": "x", "type": "quantitative", "scale": {"domain": [-3, 3], "nice": false, "zero": false}, "axis": {"orient": "bottom", "values": [-3, -2, -1, 0, 1, 2, 3], "format": "d", "title": "(b)", "titleFont": "Liberation Serif", "titleFontSize": 17, "titleAlign": "left", "titleAnchor": "start", "titleBaseline": "top", "titleX": -70, "titleY": 10}},
                "y": {"field": "y", "type": "quantitative", "scale": {"domain": [-0.5, 0.5], "nice": false, "zero": false}, "axis": {"orient": "left", "values": [-0.5, -0.25, 0, 0.25, 0.5], "format": ".2~f", "title": "Total Force at Isolation Level/Weight", "titleX": -93, "titleY": 60, "titleFontSize": 19.5}},
                "detail": {"field": "g"},
                "color": {"field": "t", "type": "nominal", "scale": {"domain": ["sim", "exp"], "range": ["#111111", "#555555"]}, "legend": null},
                "strokeDash": {"field": "t", "type": "nominal", "scale": {"domain": ["sim", "exp"], "range": [[1, 0], [1, 2.5]]}, "legend": null},
                "strokeWidth": {"field": "t", "type": "nominal", "scale": {"domain": ["sim", "exp"], "range": [1.3, 1]}, "legend": null},
                "order": {"value": null}
              }
            },
            {
              "data": {"name": "b"},
              "mark": {"type": "line", "strokeOpacity": 0},
              "encoding": {
                "x": {"field": "x", "type": "quantitative", "axis": {"orient": "top", "values": [-3, -2, -1, 0, 1, 2, 3], "labels": false, "title": null}},
                "y": {"field": "y", "type": "quantitative", "axis": {"orient": "right", "values": [-0.5, -0.25, 0, 0.25, 0.5], "labels": false, "title": null}},
                "detail": {"field": "g"}
              }
            }
          ],
          "resolve": {"axis": {"x": "independent", "y": "independent"}}
        },
        {
          "width": 515, "height": 113,
          "title": {"text": "(c)", "orient": "bottom", "anchor": "start", "frame": "group", "font": "Liberation Serif", "fontSize": 17, "fontWeight": "normal", "color": "#222", "dx": -70, "offset": -38},
          "layer": [
            {
              "data": {"name": "c"},
              "mark": {"type": "line", "interpolate": "catmull-rom"},
              "encoding": {
                "x": {"field": "x", "type": "quantitative", "scale": {"domain": [-3, 3], "nice": false, "zero": false}, "axis": {"orient": "bottom", "values": [-3, -2, -1, 0, 1, 2, 3], "format": "d", "title": "Relative Displacement : Deck – Left Pier (cm)", "titleFontSize": 21, "titlePadding": 10}},
                "y": {"field": "y", "type": "quantitative", "scale": {"domain": [-0.5, 0.5], "nice": false, "zero": false}, "axis": {"orient": "left", "values": [-0.5, -0.25, 0, 0.25, 0.5], "format": ".2~f", "title": null}},
                "detail": {"field": "g"},
                "color": {"field": "t", "type": "nominal", "scale": {"domain": ["sim", "exp"], "range": ["#111111", "#555555"]}, "legend": null},
                "strokeDash": {"field": "t", "type": "nominal", "scale": {"domain": ["sim", "exp"], "range": [[1, 0], [1, 2.5]]}, "legend": null},
                "strokeWidth": {"field": "t", "type": "nominal", "scale": {"domain": ["sim", "exp"], "range": [1.3, 1]}, "legend": null},
                "order": {"value": null}
              }
            },
            {
              "data": {"name": "c"},
              "mark": {"type": "line", "strokeOpacity": 0},
              "encoding": {
                "x": {"field": "x", "type": "quantitative", "axis": {"orient": "top", "values": [-3, -2, -1, 0, 1, 2, 3], "labels": false, "title": null}},
                "y": {"field": "y", "type": "quantitative", "axis": {"orient": "right", "values": [-0.5, -0.25, 0, 0.25, 0.5], "labels": false, "title": null}},
                "detail": {"field": "g"}
              }
            }
          ],
          "resolve": {"axis": {"x": "independent", "y": "independent"}}
        }
      ]
    }
  ],
  "config": {
    "font": "Liberation Sans",
    "view": {"stroke": "#000000", "strokeWidth": 1.2},
    "axis": {"domain": false, "grid": false, "tickColor": "#000000", "tickSize": -5, "tickWidth": 1, "labelPadding": 8, "labelFont": "Liberation Sans", "labelFontSize": 13, "labelColor": "#222222", "titleFont": "Liberation Sans", "titleFontSize": 17, "titleFontWeight": "normal", "titleColor": "#222222"},
    "title": {"font": "Liberation Sans", "fontSize": 18, "fontWeight": "normal", "color": "#222222"}
  }
}
